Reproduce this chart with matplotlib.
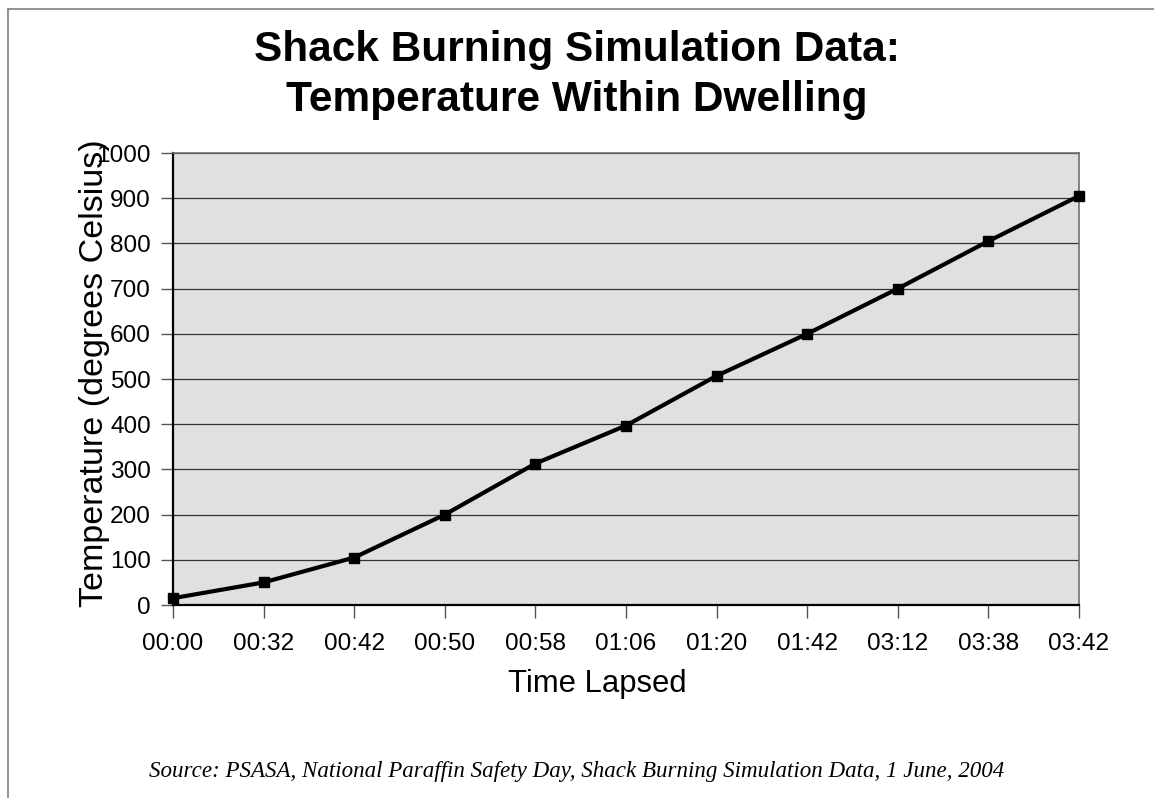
import matplotlib
matplotlib.use('Agg')
from matplotlib import pyplot as plt
from matplotlib.lines import Line2D

times = ['00:00', '00:32', '00:42', '00:50', '00:58', '01:06',
         '01:20', '01:42', '03:12', '03:38', '03:42']
temps = [15, 50, 105, 200, 313, 397, 507, 600, 700, 805, 905]
yticks = list(range(0, 1001, 100))

plt.rcParams['font.family'] = ['Liberation Sans', 'DejaVu Sans']

fig = plt.figure(figsize=(11.54, 7.98), dpi=100)
W, H = 1154, 798

# outer chart frame (only left and top edges visible)
fig.add_artist(Line2D([8 / W, 8 / W], [0, 1 - 9 / H], transform=fig.transFigure,
                      color='#808080', lw=1.2))
fig.add_artist(Line2D([8 / W, 1], [1 - 9 / H, 1 - 9 / H], transform=fig.transFigure,
                      color='#808080', lw=1.2))

ax = fig.add_axes([173 / W, 1 - 605 / H, (1079 - 173) / W, (605 - 153) / H])
ax.set_facecolor('#E0E0E0')

x = list(range(len(times)))
ax.plot(x, temps, color='black', lw=3.0, marker='s', markersize=7.5, zorder=3,
        clip_on=False)

ax.set_xlim(0, len(times) - 1)
ax.set_ylim(0, 1000)
ax.set_yticks(yticks)
ax.set_xticks(x)
ax.set_xticklabels(times)
ax.yaxis.grid(True, color='#333333', lw=0.9)
ax.set_axisbelow(True)

ax.tick_params(axis='both', direction='out', length=9, width=1, color='#555555',
               labelsize=17.6, pad=7)
ax.tick_params(axis='x', pad=11)

for side in ['left', 'bottom']:
    ax.spines[side].set_linewidth(1.6)
    ax.spines[side].set_color('black')
for side in ['top', 'right']:
    ax.spines[side].set_linewidth(1.2)
    ax.spines[side].set_color('#707070')

fig.text(597 / W, 1 - 684 / H, 'Time Lapsed', ha='center', va='center', fontsize=22.3)
fig.text(95 / W, 1 - 373 / H, 'Temperature (degrees Celsius)', ha='center', va='center',
         rotation=90, fontsize=24.5)

fig.text(577 / W, 1 - 75 / H, 'Shack Burning Simulation Data:\nTemperature Within Dwelling',
         ha='center', va='center', fontsize=30.5, fontweight='bold', linespacing=1.3)

fig.text(577 / W, 1 - 771 / H,
         'Source: PSASA, National Paraffin Safety Day, Shack Burning Simulation Data, 1 June, 2004',
         ha='center', va='center', fontsize=16.6, style='italic',
         family=['Liberation Serif', 'DejaVu Serif'])

fig.savefig('out.png', dpi=100)
